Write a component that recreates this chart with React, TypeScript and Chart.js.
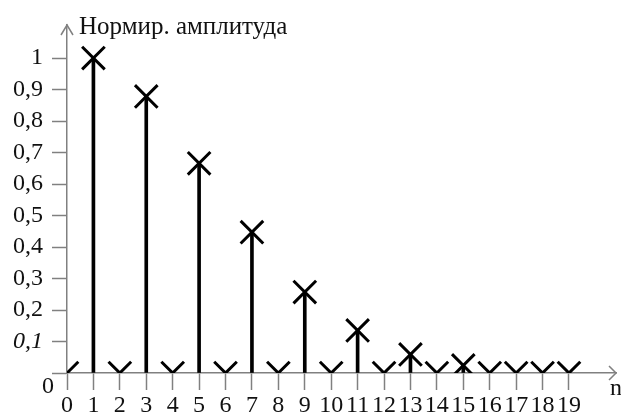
import React, { useEffect, useRef } from 'react';
import { Chart, registerables } from 'chart.js';

Chart.register(...registerables);

const nValues = [0, 1, 2, 3, 4, 5, 6, 7, 8, 9, 10, 11, 12, 13, 14, 15, 16, 17, 18, 19];
const amplitudes = [0, 1.0, 0, 0.878, 0, 0.666, 0, 0.447, 0, 0.257, 0, 0.135, 0, 0.059, 0, 0.024, 0, 0, 0, 0];
const yTickValues = [0, 0.1, 0.2, 0.3, 0.4, 0.5, 0.6, 0.7, 0.8, 0.9, 1.0];
const yTickLabels = ['', '0,1', '0,2', '0,3', '0,4', '0,5', '0,6', '0,7', '0,8', '0,9', '1'];
const xTickLabels = ['0', '1', '2', '3', '4', '5', '6', '7', '8', '9', '10', '11', '12', '13', '14', '15', '16', '17', '18', '19'];
const yAxisTitle = 'Нормир. амплитуда';
const xAxisTitle = 'n';
const originLabel = '0';

const FONT = '"Liberation Serif", "Times New Roman", serif';
const AXIS = '#808080';
const TEXT = '#111111';

const decorPlugin = {
  id: 'decor',
  afterDraw(chart: any) {
    const { ctx, chartArea } = chart;
    const { left, right, top, bottom } = chartArea;
    ctx.save();
    ctx.strokeStyle = AXIS;
    ctx.lineWidth = 1.5;
    // y arrow
    ctx.beginPath();
    ctx.moveTo(left - 6, top + 10);
    ctx.lineTo(left, top);
    ctx.lineTo(left + 6, top + 10);
    ctx.stroke();
    // x arrow
    ctx.beginPath();
    ctx.moveTo(right - 7, bottom - 7);
    ctx.lineTo(right, bottom);
    ctx.lineTo(right - 7, bottom + 7);
    ctx.stroke();
    ctx.fillStyle = TEXT;
    ctx.font = `25px ${FONT}`;
    ctx.textAlign = 'left';
    ctx.textBaseline = 'alphabetic';
    ctx.fillText(yAxisTitle, left + 12, top + 9);
    ctx.font = `24px ${FONT}`;
    ctx.fillText(originLabel, left - 25, bottom + 20);
    ctx.fillText(xAxisTitle, right - 6, bottom + 22);
    ctx.restore();
  },
};

export default function App() {
  const ref = useRef<HTMLCanvasElement | null>(null);
  useEffect(() => {
    if (!ref.current) return;
    const chart = new Chart(ref.current, {
      type: 'scatter',
      data: {
        datasets: [
          {
            type: 'bar',
            data: nValues.map((n, i) => ({ x: n, y: amplitudes[i] })),
            backgroundColor: '#000000',
            borderWidth: 0,
            barThickness: 3,
            grouped: false,
            clip: 0,
          } as any,
          {
            type: 'scatter',
            data: nValues.map((n, i) => ({ x: n, y: amplitudes[i] })),
            pointStyle: 'crossRot',
            pointRadius: 16,
            pointHoverRadius: 16,
            borderColor: '#000000',
            backgroundColor: '#000000',
            borderWidth: 3,
            pointBorderWidth: 3,
            clip: 0,
          } as any,
        ],
      },
      options: {
        animation: false,
        responsive: false,
        devicePixelRatio: 1,
        events: [],
        layout: { autoPadding: false, padding: { left: 0, top: 25, right: 5, bottom: 0 } },
        plugins: { legend: { display: false }, tooltip: { enabled: false }, title: { display: false } },
        scales: {
          x: {
            type: 'linear',
            min: 0,
            max: 20.78,
            offset: false,
            afterFit: (s: any) => { s.height = 39; },
            afterBuildTicks: (s: any) => { s.ticks = nValues.map((v) => ({ value: v })); },
            grid: { drawOnChartArea: false, drawTicks: true, tickLength: 17, tickColor: AXIS, tickWidth: 1.5, offset: false },
            border: { display: true, color: AXIS, width: 1.5 },
            ticks: {
              autoSkip: false,
              maxRotation: 0,
              padding: 1,
              color: TEXT,
              font: { family: FONT, size: 24 },
              callback: (_v: any, i: number) => xTickLabels[i],
            },
          },
          y: {
            type: 'linear',
            min: 0,
            max: 1.105,
            afterFit: (s: any) => { s.width = 67; },
            afterBuildTicks: (s: any) => { s.ticks = yTickValues.map((v) => ({ value: v })); },
            grid: { drawOnChartArea: false, drawTicks: true, tickLength: 15, tickColor: AXIS, tickWidth: 1.5 },
            border: { display: true, color: AXIS, width: 1.5 },
            ticks: {
              autoSkip: false,
              padding: 9,
              color: TEXT,
              font: (ctx: any) => ({ family: FONT, size: 24, style: ctx.index === 1 ? 'italic' : 'normal' }),
              callback: (_v: any, i: number) => yTickLabels[i],
            },
          },
        },
      },
      plugins: [decorPlugin],
    } as any);
    return () => chart.destroy();
  }, []);
  return (
    <div style={{ position: 'fixed', left: 0, top: 0, width: 621, height: 412, background: '#fff' }}>
      <canvas ref={ref} width={621} height={412} style={{ display: 'block' }} />
    </div>
  );
}
